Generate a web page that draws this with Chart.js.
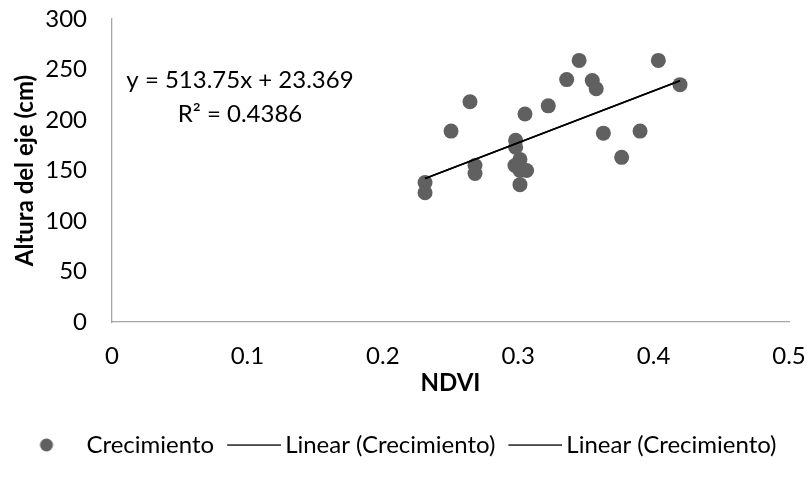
<!DOCTYPE html>
<html>
<head>
<meta charset="utf-8">
<script src="https://cdn.jsdelivr.net/npm/chart.js@4/dist/chart.umd.min.js"></script>
<style>
  html, body { margin: 0; padding: 0; background: #fff; }
  #wrap { width: 807px; height: 484px; position: relative; }
</style>
</head>
<body>
<div id="wrap"><canvas id="chart"></canvas></div>
<script>
// NDVI readings and the matching stem height (cm)
const ndvi = [0.345, 0.4035, 0.3358, 0.3547, 0.3576, 0.4195, 0.2644, 0.3222,
              0.3050, 0.2504, 0.3629, 0.3900, 0.2981, 0.2981, 0.3764, 0.2681,
              0.2681, 0.3013, 0.2976, 0.3013, 0.3062, 0.3013, 0.2312, 0.2312];
const altura = [259, 259, 240, 239, 231, 235, 218, 214,
                206, 189, 187, 189, 180, 173, 163, 155,
                147, 161, 155, 150, 150, 136, 138, 128];

// Linear fit reported on the chart
const slope = 513.75;
const intercept = 23.369;
const rSquared = 0.4386;

const seriesName = 'Crecimiento';
const trendName = 'Linear (Crecimiento)';
const xTitle = 'NDVI';
const yTitle = 'Altura del eje (cm)';

const xTicks = { min: 0, max: 0.5, step: 0.1 };
const yTicks = { min: 0, max: 300, step: 50 };

const points = ndvi.map((v, i) => ({ x: v, y: altura[i] }));
const xLo = Math.min(...ndvi), xHi = Math.max(...ndvi);
const trend = [xLo, xHi].map(x => ({ x: x, y: slope * x + intercept }));

const FONT = 'Lato, "Open Sans", sans-serif';
const TEXT = '#000';
const MARKER = '#606060';
const AXIS = '#a6a6a6';

Chart.defaults.font.family = FONT;
Chart.defaults.font.size = 24;
Chart.defaults.color = TEXT;

// legend symbols: a dot and a short rule, offset inside their boxes
function makeDot() {
  const c = document.createElement('canvas');
  c.width = 30; c.height = 16;
  const g = c.getContext('2d');
  g.fillStyle = MARKER;
  g.beginPath(); g.arc(9, 8, 6.5, 0, Math.PI * 2); g.fill();
  return c;
}
function makeRule() {
  const c = document.createElement('canvas');
  c.width = 60; c.height = 4;
  const g = c.getContext('2d');
  g.fillStyle = '#000';
  g.fillRect(6, 1.4, 54, 1.3);
  return c;
}
const dotImg = makeDot();
const ruleImg = makeRule();

// trendline equation written inside the plot
const equationLabel = {
  id: 'equationLabel',
  afterDatasetsDraw(chart) {
    const { ctx, chartArea } = chart;
    const cx = chartArea.left + 128;
    const cy = chartArea.top + 61;
    ctx.save();
    ctx.font = '24px ' + FONT;
    ctx.fillStyle = TEXT;
    ctx.textAlign = 'center';
    ctx.textBaseline = 'middle';
    ctx.fillText('y = ' + slope.toFixed(2) + 'x + ' + intercept.toFixed(3), cx, cy);
    ctx.fillText('R\u00B2 = ' + rSquared.toFixed(4), cx, cy + 34);
    ctx.restore();
  }
};

const trendStyle = {
  showLine: true,
  borderColor: '#000',
  borderWidth: 1.6,
  pointRadius: 0,
  pointHoverRadius: 0,
  fill: false
};

// axes carry no grid or tick marks; the hidden tick length spaces the labels
const bareGrid = (gap) => ({ display: false, drawTicks: true, tickLength: gap });

new Chart(document.getElementById('chart'), {
  type: 'scatter',
  data: {
    datasets: [
      {
        label: seriesName,
        data: points,
        backgroundColor: MARKER,
        borderWidth: 0,
        pointRadius: 7.5,
        pointHoverRadius: 7.5,
        order: 2
      },
      Object.assign({ label: trendName, data: trend, order: 1 }, trendStyle),
      Object.assign({ label: trendName, data: trend, order: 0 }, trendStyle)
    ]
  },
  options: {
    responsive: true,
    maintainAspectRatio: false,
    animation: false,
    layout: { padding: { top: 19, right: 0, bottom: 17, left: 0 } },
    scales: {
      x: {
        type: 'linear',
        min: xTicks.min,
        max: xTicks.max,
        afterFit(scale) { scale.height = 96; },
        grid: bareGrid(20),
        border: { display: true, color: AXIS, width: 1.3 },
        ticks: {
          stepSize: xTicks.step,
          padding: 0,
          color: TEXT,
          font: { size: 24 },
          callback: v => String(Math.round(v * 10) / 10)
        },
        title: {
          display: true,
          text: xTitle,
          color: TEXT,
          font: { size: 24, weight: 'bold' },
          padding: { top: 0, bottom: 20 }
        }
      },
      y: {
        type: 'linear',
        min: yTicks.min,
        max: yTicks.max,
        afterFit(scale) { scale.width = 112; },
        grid: bareGrid(25),
        border: { display: true, color: AXIS, width: 1.3 },
        ticks: {
          stepSize: yTicks.step,
          padding: 0,
          color: TEXT,
          font: { size: 24 }
        },
        title: {
          display: true,
          text: yTitle,
          color: TEXT,
          font: { size: 24, weight: 'bold' },
          padding: { top: 11, bottom: 0 }
        }
      },
      // empty margin on the right of the plot
      yEdge: {
        type: 'linear',
        position: 'right',
        min: yTicks.min,
        max: yTicks.max,
        afterFit(scale) { scale.width = 18; },
        grid: { display: false, drawTicks: false },
        border: { display: false },
        ticks: { display: false }
      }
    },
    plugins: {
      tooltip: { enabled: false },
      legend: {
        position: 'bottom',
        labels: {
          usePointStyle: true,
          pointStyleWidth: 44,
          boxHeight: 24,
          padding: 15,
          color: TEXT,
          font: { size: 24 },
          sort: (a, b) => a.datasetIndex - b.datasetIndex,
          generateLabels(chart) {
            const items = Chart.defaults.plugins.legend.labels.generateLabels(chart);
            items.forEach(it => { it.pointStyle = it.datasetIndex === 0 ? dotImg : ruleImg; });
            return items;
          }
        }
      }
    }
  },
  plugins: [equationLabel]
});
</script>
</body>
</html>
